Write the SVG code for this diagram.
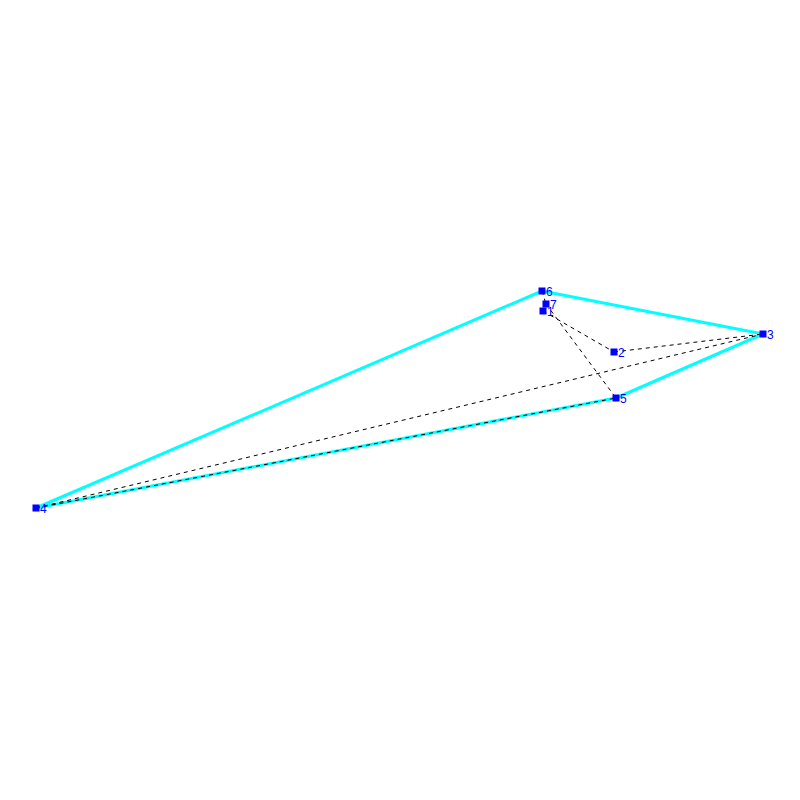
<svg xmlns="http://www.w3.org/2000/svg" width="800" height="800" viewBox="0 0 800 800">
<style>
.hull{stroke:#00ffff;stroke-width:3;fill:none}
.d{stroke:#000;stroke-width:1;stroke-dasharray:4,4;fill:none}
.n rect{fill:#0000ff}
.n text{fill:#0000ff;font-family:"Liberation Sans",Arial,sans-serif;font-size:12px}
</style>
<rect width="800" height="800" fill="#fff"/>
<g id="connectors">
<line class="hull" x1="36" y1="508" x2="542" y2="291"/>
<line class="hull" x1="542" y1="291" x2="763" y2="334"/>
<line class="hull" x1="763" y1="334" x2="616" y2="398"/>
<line class="hull" x1="616" y1="398" x2="36" y2="508"/>
<line class="d" x1="543" y1="311" x2="614" y2="352"/>
<line class="d" x1="614" y1="352" x2="763" y2="334"/>
<line class="d" x1="546" y1="304" x2="616" y2="398"/>
<line class="d" x1="542" y1="291" x2="546" y2="304"/>
<line class="d" x1="36" y1="508" x2="763" y2="334"/>
<line class="d" x1="36" y1="508" x2="616" y2="398"/>
</g>
<g id="n1" class="n"><rect x="539.5" y="307.5" width="7" height="7"/><text x="547" y="316">1</text></g>
<g id="n2" class="n"><rect x="610.5" y="348.5" width="7" height="7"/><text x="618" y="357">2</text></g>
<g id="n3" class="n"><rect x="759.5" y="330.5" width="7" height="7"/><text x="767" y="339">3</text></g>
<g id="n4" class="n"><rect x="32.5" y="504.5" width="7" height="7"/><text x="40" y="513">4</text></g>
<g id="n5" class="n"><rect x="612.5" y="394.5" width="7" height="7"/><text x="620" y="403">5</text></g>
<g id="n6" class="n"><rect x="538.5" y="287.5" width="7" height="7"/><text x="546" y="296">6</text></g>
<g id="n7" class="n"><rect x="542.5" y="300.5" width="7" height="7"/><text x="550" y="309">7</text></g>
</svg>
